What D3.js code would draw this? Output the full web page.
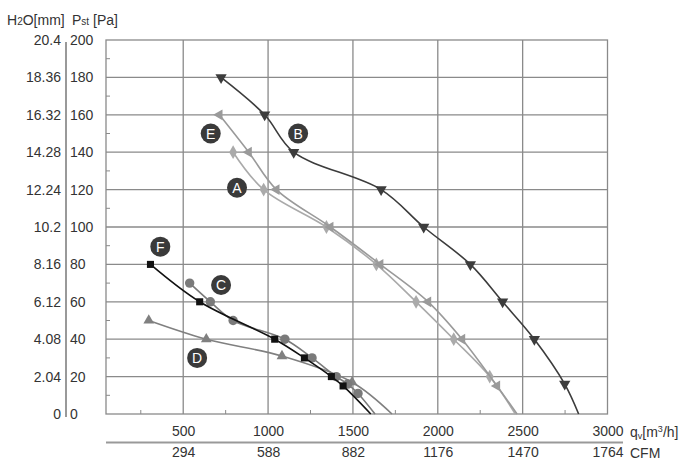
<!DOCTYPE html>
<html>
<head>
<meta charset="utf-8">
<script src="https://cdn.jsdelivr.net/npm/d3@7"></script>
<style>
body { margin:0; background:#fff; }
text { font-family: "Liberation Sans", Arial, sans-serif; fill:#333; }
</style>
</head>
<body>
<div id="graph"></div>
<script>
// flow in m3/h, static pressure in Pa (last point of each series is where the line meets 0)
var aQ = [794, 974, 1344, 1638, 1872, 2094, 2306, 2457];
var aP = [140, 120, 100, 80, 60, 40, 20, 0];
var bQ = [723, 980, 1151, 1666, 1917, 2192, 2382, 2569, 2748, 2830];
var bP = [180, 160, 140, 120, 100, 80, 60, 40, 16, 0];
var cQ = [538, 660, 794, 1099, 1259, 1402, 1469, 1530, 1630];
var cP = [70, 60, 50, 40, 30, 20, 16, 11, 0];
var dQ = [297, 636, 1082, 1495, 1730];
var dP = [50, 40, 31, 17, 0];
var eQ = [713, 886, 1049, 1367, 1661, 1943, 2143, 2349, 2467];
var eP = [160, 140, 120, 100, 80, 60, 40, 15, 0];
var fQ = [307, 597, 1039, 1214, 1373, 1442, 1605];
var fP = [80, 60, 40, 30, 20, 15, 0];

var labelNames = ["A", "B", "C", "D", "E", "F"];
var labelQ = [817, 1177, 723, 582, 662, 365];
var labelP = [121, 150, 69, 30, 150, 89.5];

var paTicks = [0, 20, 40, 60, 80, 100, 120, 140, 160, 180, 200];
var mmTicks = ["0", "2.04", "4.08", "6.12", "8.16", "10.2", "12.24", "14.28", "16.32", "18.36", "20.4"];
var qTicks = [500, 1000, 1500, 2000, 2500, 3000];
var cfmTicks = ["294", "588", "882", "1176", "1470", "1764"];

var svg = d3.select('#graph').append("svg").attr("width", 700).attr("height", 467);

var x = d3.scaleLinear().domain([45, 3000]).range([106, 607.5]);
var y = d3.scaleLinear().domain([0, 200]).range([414, 40]);

var grid = svg.append("g").attr("stroke", "#8a8a8a").attr("stroke-width", 1.3);
grid.selectAll(".gx").data(qTicks.slice(0, 5)).enter().append("line")
    .attr("x1", x).attr("x2", x).attr("y1", y(0)).attr("y2", y(200));
grid.selectAll(".gy").data(paTicks.slice(1, 10)).enter().append("line")
    .attr("x1", x(45)).attr("x2", x(3000))
    .attr("y1", y).attr("y2", y);
grid.append("rect")
    .attr("x", x(45)).attr("y", y(200))
    .attr("width", x(3000) - x(45)).attr("height", y(0) - y(200))
    .attr("fill", "none");

// minor ticks
var minor = svg.append("g").attr("stroke", "#8a8a8a").attr("stroke-width", 1);
minor.selectAll(".my").data(d3.range(10, 200, 20)).enter().append("line")
    .attr("x1", x(45)).attr("x2", x(45) + 4).attr("y1", y).attr("y2", y);
minor.selectAll(".mx").data(d3.range(250, 3000, 500)).enter().append("line")
    .attr("x1", x).attr("x2", x).attr("y1", y(0)).attr("y2", y(0) - 4);

// left double axis
var paAxis = d3.axisRight(y).tickValues(paTicks).tickSize(0).tickPadding(4).tickFormat(d3.format("d"));
var mmAxis = d3.axisLeft(y).tickValues(paTicks).tickSize(0).tickPadding(5)
    .tickFormat(function(d, i){ return mmTicks[i]; });
var gPa = svg.append("g").attr("transform", "translate(66,0)").call(paAxis);
var gMm = svg.append("g").attr("transform", "translate(66,0)").call(mmAxis);
gMm.select(".domain").remove();
gPa.select(".domain").attr("stroke", "#555").attr("stroke-width", 1.2).attr("d", "M0,42V417");

// bottom double axis
var qAxis = d3.axisBottom(x).tickValues(qTicks).tickSize(0).tickPadding(12).tickFormat(d3.format("d"));
var cfmAxis = d3.axisBottom(x).tickValues(qTicks).tickSize(0).tickPadding(33)
    .tickFormat(function(d, i){ return cfmTicks[i]; });
var gQ = svg.append("g").attr("transform", "translate(0," + y(0) + ")").call(qAxis);
var gC = svg.append("g").attr("transform", "translate(0," + y(0) + ")").call(cfmAxis);
gQ.select(".domain").remove();
gC.select(".domain").remove();
svg.selectAll(".tick text").attr("font-size", 14).attr("fill", "#333")
    .attr("font-family", "Liberation Sans, Arial, sans-serif");
svg.append("line").attr("x1", 106).attr("x2", 623).attr("y1", 442.5).attr("y2", 442.5)
    .attr("stroke", "#999").attr("stroke-width", 2);

// axis titles
var t1 = svg.append("text").attr("x", 7).attr("y", 25).attr("font-size", 14);
t1.append("tspan").text("H");
t1.append("tspan").attr("font-size", 10).text("2");
t1.append("tspan").text("O[mm]");
var t2 = svg.append("text").attr("x", 72).attr("y", 25).attr("font-size", 14);
t2.append("tspan").text("P");
t2.append("tspan").attr("font-size", 10).text("st");
t2.append("tspan").text(" [Pa]");
var t3 = svg.append("text").attr("x", 630).attr("y", 437).attr("font-size", 14);
t3.append("tspan").text("q");
t3.append("tspan").attr("font-size", 9).attr("dy", 2).text("v");
t3.append("tspan").attr("dy", -2).text("[m");
t3.append("tspan").attr("font-size", 9).attr("dy", -5).text("3");
t3.append("tspan").attr("dy", 5).text("/h]");
svg.append("text").attr("x", 630).attr("y", 458).attr("font-size", 14).text("CFM");

// curves
var series = [
  {q: aQ, p: aP, color: "#aaaaaa", sym: d3.symbolDiamond, size: 55, rot: 0},
  {q: eQ, p: eP, color: "#9a9a9a", sym: d3.symbolTriangle, size: 50, rot: -90},
  {q: dQ, p: dP, color: "#808080", sym: d3.symbolTriangle, size: 50, rot: 0},
  {q: cQ, p: cP, color: "#7a7a7a", sym: d3.symbolCircle, size: 70, rot: 0},
  {q: fQ, p: fP, color: "#111111", sym: d3.symbolSquare, size: 50, rot: 0},
  {q: bQ, p: bP, color: "#3c3c3c", sym: d3.symbolTriangle, size: 55, rot: 180}
];

var line = d3.line()
    .x(function(d){ return x(d[0]); })
    .y(function(d){ return y(d[1]); })
    .curve(d3.curveCatmullRom.alpha(0.5));

series.forEach(function(s){
  var pts = s.q.map(function(q, i){ return [q, s.p[i]]; });
  svg.append("path").datum(pts)
      .attr("d", line)
      .attr("fill", "none")
      .attr("stroke", s.color)
      .attr("stroke-width", 1.6);
  svg.selectAll(null).data(pts.slice(0, -1)).enter().append("path")
      .attr("d", d3.symbol().type(s.sym).size(s.size))
      .attr("transform", function(d){ return "translate(" + x(d[0]) + "," + y(d[1]) + ") rotate(" + s.rot + ")"; })
      .attr("fill", s.color);
});

// curve labels
var lab = svg.selectAll(".lab").data(labelNames).enter().append("g")
    .attr("transform", function(d, i){ return "translate(" + x(labelQ[i]) + "," + y(labelP[i]) + ")"; });
lab.append("circle").attr("r", 10).attr("fill", "#3a3a3a");
lab.append("text").attr("text-anchor", "middle").attr("dy", 5)
    .attr("font-size", 14).style("fill", "#fff")
    .text(function(d){ return d; });
</script>
</body>
</html>
